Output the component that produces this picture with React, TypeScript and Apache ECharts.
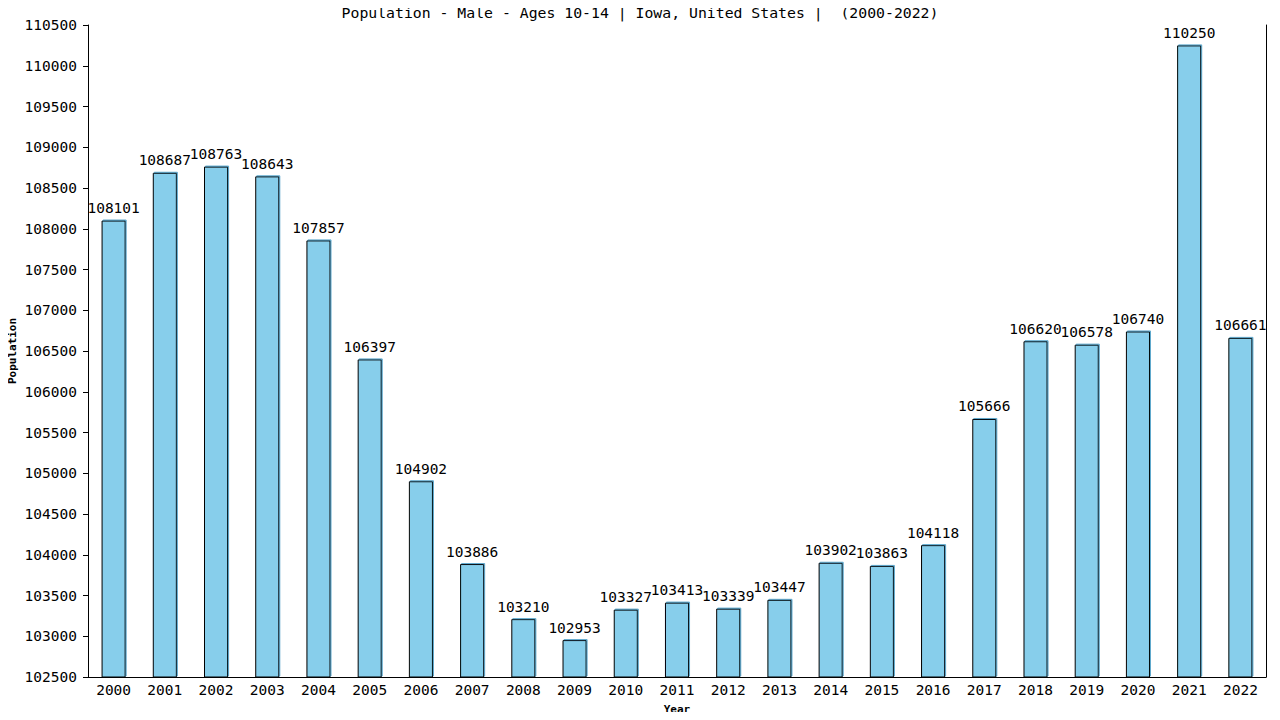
import { useEffect, useRef } from "react";
import * as echarts from "echarts";

const years = ["2000", "2001", "2002", "2003", "2004", "2005", "2006", "2007", "2008", "2009", "2010", "2011", "2012", "2013", "2014", "2015", "2016", "2017", "2018", "2019", "2020", "2021", "2022"];
const population = [108101, 108687, 108763, 108643, 107857, 106397, 104902, 103886, 103210, 102953, 103327, 103413, 103339, 103447, 103902, 103863, 104118, 105666, 106620, 106578, 106740, 110250, 106661];
const titleText = "Population - Male - Ages 10-14 | Iowa, United States |  (2000-2022)";

const FONT = "'DejaVu Sans Mono', monospace";

export default function App() {
  const chartRef = useRef<HTMLDivElement>(null);

  useEffect(() => {
    if (!chartRef.current) return;
    const chart = echarts.init(chartRef.current, null, { renderer: "svg" });
    chart.setOption({
      animation: false,
      backgroundColor: "#ffffff",
      textStyle: { fontFamily: FONT, color: "#000" },
      title: {
        text: titleText,
        left: "center",
        top: 0,
        textStyle: { fontFamily: FONT, fontSize: 14.8, fontWeight: "normal", color: "#000" },
      },
      grid: { left: 88, right: 14, top: 25, bottom: 43, containLabel: false, outerBoundsMode: "none" },
      xAxis: {
        type: "category",
        data: years,
        name: "Year",
        nameLocation: "middle",
        nameGap: 27,
        nameMoveOverlap: false,
        nameTextStyle: { fontFamily: FONT, fontSize: 11, fontWeight: "bold", color: "#000" },
        axisLine: { lineStyle: { color: "#000", width: 1 } },
        axisTick: { show: false },
        axisLabel: { fontFamily: FONT, fontSize: 14.5, color: "#000", margin: 5 },
        splitLine: { show: false },
      },
      yAxis: [
        {
          type: "value",
          min: 102500,
          max: 110500,
          interval: 500,
          name: "Population",
          nameLocation: "middle",
          nameGap: 70,
          nameMoveOverlap: false,
          nameTextStyle: { fontFamily: FONT, fontSize: 11, fontWeight: "bold", color: "#000" },
          axisLine: { show: true, lineStyle: { color: "#000", width: 1 } },
          axisTick: { show: true, length: 5, lineStyle: { color: "#000" } },
          axisLabel: {
            fontFamily: FONT,
            fontSize: 14.5,
            color: "#000",
            margin: 11,
            formatter: (v: number) => String(v),
          },
          splitLine: { show: false },
        },
        {
          type: "value",
          min: 102500,
          max: 110500,
          interval: 500,
          position: "right",
          axisLine: { show: true, lineStyle: { color: "#000", width: 1 } },
          axisTick: { show: false },
          axisLabel: { show: false },
          splitLine: { show: false },
        },
      ],
      series: [
        {
          type: "bar",
          data: population,
          barWidth: "47%",
          itemStyle: {
            color: "#87CEEB",
            borderColor: "#000",
            borderWidth: 1,
            shadowColor: "#5fa8cc",
            shadowOffsetX: 1,
            shadowOffsetY: -1,
            shadowBlur: 0,
          },
          label: {
            show: true,
            position: "top",
            distance: 5,
            fontFamily: FONT,
            fontSize: 14.5,
            color: "#000",
          },
        },
      ],
    });
    return () => chart.dispose();
  }, []);

  return <div ref={chartRef} style={{ width: 1280, height: 720, margin: -8 }} />;
}
